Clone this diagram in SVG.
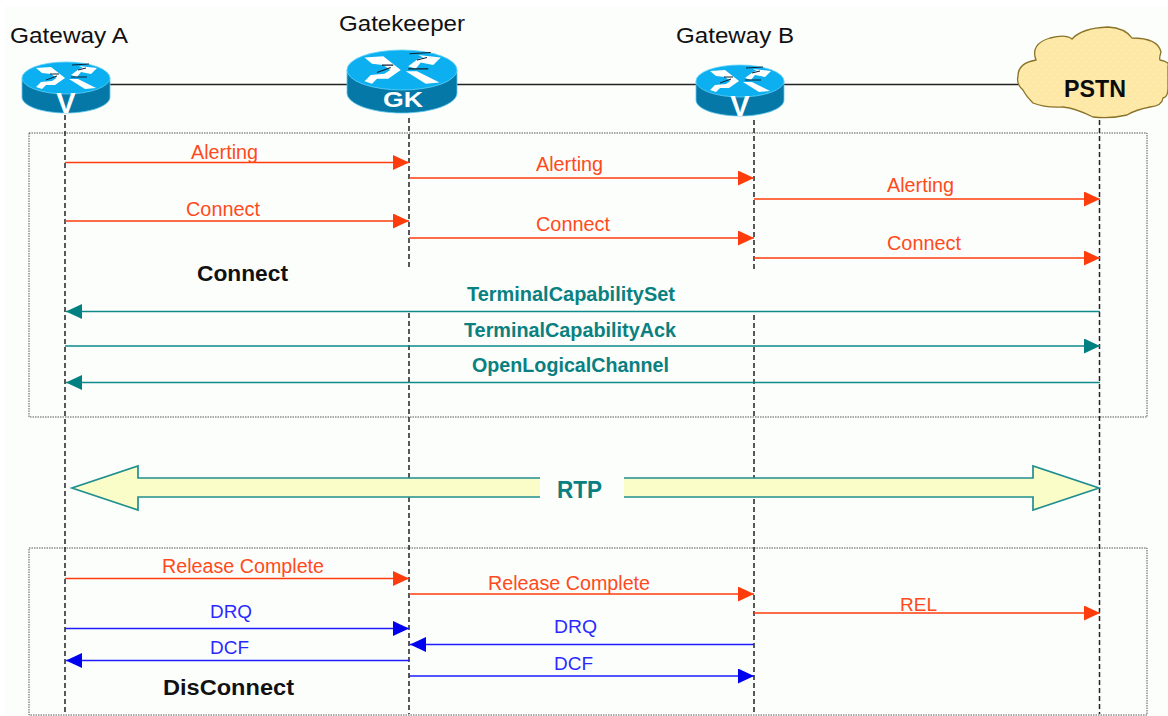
<svg xmlns="http://www.w3.org/2000/svg" width="1168" height="716" viewBox="0 0 1168 716">
<style>
text{font-family:"Liberation Sans",Arial,sans-serif}
.h{font-size:22px;fill:#111}
.b{font-size:22px;font-weight:bold;fill:#111}
.r{font-size:20px;fill:#ff4a20}
.c{font-size:19.500px;font-weight:bold;fill:#0a8080}
.d{font-size:19px;fill:#2a2aff}
.life{stroke:#222;stroke-width:1.5;stroke-dasharray:5 3;fill:none}
.box{fill:none;stroke:#555;stroke-width:1;stroke-dasharray:1.5 1}
.lnk{stroke:#222;stroke-width:1.5;fill:none}
.mr{stroke:#ff3c0c;stroke-width:1.7;marker-end:url(#ar)}
.mc{stroke:#0d8a8a;stroke-width:1.7;marker-end:url(#ac)}
.mb{stroke:#1c1cff;stroke-width:1.7;marker-end:url(#ab)}
.top{fill:#0cb0f0;stroke:#5fd0f8;stroke-width:.8}
.body{fill:#0578a8;stroke:#5fc8ee;stroke-width:.8}
.rtp{fill:#fbfdc8;stroke:#218f8f;stroke-width:1.7}
</style>
<defs>
<marker id="ar" markerUnits="userSpaceOnUse" markerWidth="17" markerHeight="16" refX="16" refY="7.500" orient="auto"><path d="M0 0L16 7.500L0 15Z" fill="#ff3c0c"/></marker>
<marker id="ac" markerUnits="userSpaceOnUse" markerWidth="17" markerHeight="16" refX="16" refY="7.500" orient="auto"><path d="M0 0L16 7.500L0 15Z" fill="#008080"/></marker>
<marker id="ab" markerUnits="userSpaceOnUse" markerWidth="17" markerHeight="16" refX="16" refY="7.500" orient="auto"><path d="M0 0L16 7.500L0 15Z" fill="#0000f0"/></marker>
<pattern id="dots" width="8" height="8" patternUnits="userSpaceOnUse"><rect width="8" height="8" fill="#fde8a6"/><circle cx="2" cy="2" r=".7" fill="#fff4cf"/><circle cx="6" cy="6" r=".7" fill="#fff4cf"/></pattern>
<g id="arrows">
<path d="M-30-10L-15-11L-1 0L-8 1L-15-4L-24-5Z" fill="#fff"/>
<path d="M5-3L13-9L17-10L13-12L31-10L25-4L15-6L11-1Z" fill="#fff"/>
<path d="M-30 9L-25 4L-14 3L-8-1L-1 0L-11 7L-20 7L-24 11Z" fill="#fff"/>
<path d="M3 1L12 1L30 10L19 11Z" fill="#fff"/>
<path d="M-16-4L-7-4M6-13L23-14M-20 2L-9-2M5-1L21-1M12-8L20-10" stroke="#102030" stroke-width="1" fill="none"/>
</g>
</defs>
<rect width="1168" height="716" fill="#fff"/>
<rect x="5" y="6" width="1163" height="710" fill="#fcfefc"/>
<g id="frames">
<rect class="box" x="29" y="133" width="1118" height="284"/>
<rect class="box" x="29" y="548" width="1118" height="167"/>
</g>
<g id="connectors">
<path class="lnk" d="M110 84.500H347M457 84.500H696M784 84.500H1024"/>
<path class="life" d="M65 115V714"/>
<path class="life" d="M409 118V270M409 313V714"/>
<path class="life" d="M754 120V272M754 315V714"/>
<path class="life" d="M1099.500 120V714"/>
<path class="mr" d="M65 162.500H409"/>
<path class="mr" d="M409 178H754"/>
<path class="mr" d="M754 199H1100"/>
<path class="mr" d="M65 221H409"/>
<path class="mr" d="M409 238H754"/>
<path class="mr" d="M754 258H1100"/>
<path class="mc" d="M1100 311.500H66"/>
<path class="mc" d="M65 346H1100"/>
<path class="mc" d="M1100 382.500H66"/>
<path class="mr" d="M65 578.500H409"/>
<path class="mr" d="M409 594H754"/>
<path class="mr" d="M754 613H1100"/>
<path class="mb" d="M65 628.500H409"/>
<path class="mb" d="M754 644.500H410"/>
<path class="mb" d="M409 660.500H66"/>
<path class="mb" d="M409 676H754"/>
</g>
<g id="rtp-arrow">
<path d="M72 488L138 466V478H540V497H138V510ZM1099 488L1033 466V478H624V497H1033V510Z" fill="#fbfdc8"/>
<path class="rtp" style="fill:none" d="M540 478H138V466L72 488L138 510V497H540M624 478H1033V466L1099 488L1033 510V497H624"/>
<text x="557" y="498" textLength="45" lengthAdjust="spacingAndGlyphs" style="font-size:23px;font-weight:bold;fill:#0a8080">RTP</text>
</g>
<g id="gateway-a">
<path class="body" d="M22 78V97C22 106 42 113 66 113C90 113 110 106 110 97V78Z"/>
<ellipse class="top" cx="66" cy="78" rx="44" ry="16"/>
<use href="#arrows" x="66" y="78"/>
<text x="66" y="113" text-anchor="middle" style="font-size:29px;font-weight:bold;fill:#fff">V</text>
<text class="h" x="10" y="43" textLength="118" lengthAdjust="spacingAndGlyphs">Gateway A</text>
</g>
<g id="gatekeeper">
<path class="body" d="M347 70V93C347 104 372 113 402 113C432 113 457 104 457 93V70Z"/>
<ellipse class="top" cx="402" cy="70" rx="55" ry="20"/>
<use href="#arrows" transform="translate(402 70) scale(1.25)"/>
<text x="383" y="107" textLength="40" lengthAdjust="spacingAndGlyphs" style="font-size:22px;font-weight:bold;fill:#fff">GK</text>
<text class="h" x="339" y="31" textLength="126" lengthAdjust="spacingAndGlyphs">Gatekeeper</text>
</g>
<g id="gateway-b">
<path class="body" d="M696 81V100C696 109 716 116 740 116C764 116 784 109 784 100V81Z"/>
<ellipse class="top" cx="740" cy="81" rx="44" ry="16"/>
<use href="#arrows" x="740" y="81"/>
<text x="740" y="116" text-anchor="middle" style="font-size:29px;font-weight:bold;fill:#fff">V</text>
<text class="h" x="676" y="43" textLength="118" lengthAdjust="spacingAndGlyphs">Gateway B</text>
</g>
<g id="pstn">
<path d="M1018 76Q1018 63 1036 60Q1030 44 1050 38Q1066 34 1072 39Q1082 28 1108 27Q1125 28 1132 38Q1158 38 1161 52Q1159 58 1160 60Q1170 62 1168 66V88Q1168 97 1163 98Q1162 106 1150 107Q1135 110 1127 115Q1110 119 1093 117Q1075 108 1063 107Q1045 108 1033 103Q1026 96 1023 90Q1016 84 1018 76Z" fill="url(#dots)" stroke="#8a7328" stroke-width="1.300"/>
<text x="1064" y="97" textLength="62" lengthAdjust="spacingAndGlyphs" style="font-size:23px;font-weight:bold;fill:#0c0c0c">PSTN</text>
</g>
<g id="labels">
<text class="r" x="191" y="159" textLength="67" lengthAdjust="spacingAndGlyphs">Alerting</text>
<text class="r" x="536" y="171" textLength="67" lengthAdjust="spacingAndGlyphs">Alerting</text>
<text class="r" x="887" y="192" textLength="67" lengthAdjust="spacingAndGlyphs">Alerting</text>
<text class="r" x="186" y="216" textLength="74" lengthAdjust="spacingAndGlyphs">Connect</text>
<text class="r" x="536" y="231" textLength="74" lengthAdjust="spacingAndGlyphs">Connect</text>
<text class="r" x="887" y="250" textLength="74" lengthAdjust="spacingAndGlyphs">Connect</text>
<text class="b" x="197" y="281" textLength="91" lengthAdjust="spacingAndGlyphs">Connect</text>
<text class="c" x="467" y="301" textLength="208" lengthAdjust="spacingAndGlyphs">TerminalCapabilitySet</text>
<text class="c" x="464" y="337" textLength="212" lengthAdjust="spacingAndGlyphs">TerminalCapabilityAck</text>
<text class="c" x="472" y="372" textLength="197" lengthAdjust="spacingAndGlyphs">OpenLogicalChannel</text>
<text class="r" x="162" y="573" textLength="162" lengthAdjust="spacingAndGlyphs">Release Complete</text>
<text class="r" x="488" y="590" textLength="162" lengthAdjust="spacingAndGlyphs">Release Complete</text>
<text class="r" x="900" y="611" textLength="37" lengthAdjust="spacingAndGlyphs" style="font-size:19px">REL</text>
<text class="d" x="210" y="618" textLength="42" lengthAdjust="spacingAndGlyphs">DRQ</text>
<text class="d" x="554" y="633" textLength="43" lengthAdjust="spacingAndGlyphs">DRQ</text>
<text class="d" x="210" y="654" textLength="39" lengthAdjust="spacingAndGlyphs">DCF</text>
<text class="d" x="554" y="670" textLength="39" lengthAdjust="spacingAndGlyphs">DCF</text>
<text class="b" x="163" y="695" textLength="131" lengthAdjust="spacingAndGlyphs">DisConnect</text>
</g>
</svg>
